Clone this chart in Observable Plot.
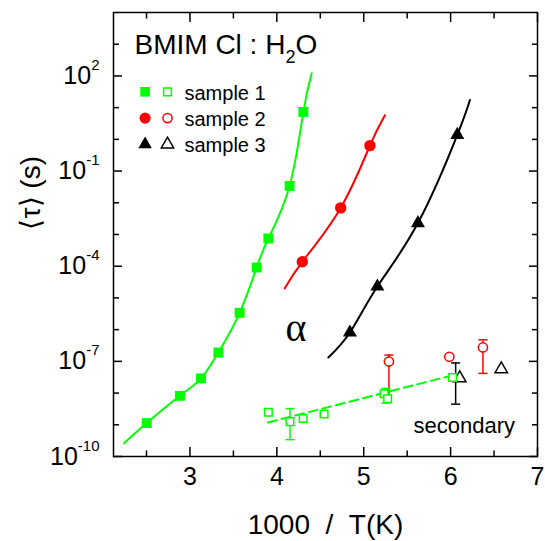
<!DOCTYPE html>
<html><head><meta charset="utf-8">
<script src="https://cdn.jsdelivr.net/npm/d3@7"></script>
<script src="https://cdn.jsdelivr.net/npm/@observablehq/plot@0.6"></script>
<style>body{margin:0;background:#fff}</style>
</head><body><div id="chart"></div>
<script>
// ---------- axis ticks & labels ----------
const xTicksMajor = [3, 4, 5, 6, 7];
const xTicksMinor = [2.5, 3.5, 4.5, 5.5, 6.5];
const xTickLabels = ["3", "4", "5", "6", "7"];
const yTicksMajor = [1e-10, 1e-7, 1e-4, 1e-1, 1e2];
const yTicksMinor = [1e-9, 1e-8, 1e-6, 1e-5, 1e-3, 1e-2, 1, 10, 1e3];
const yTickLabels = ["10^-10", "10^-7", "10^-4", "10^-1", "10^2"];

// ---------- sample 1 (green squares) ----------
const s1AlphaX   = [2.502, 2.885, 3.127, 3.327, 3.572, 3.768, 3.902, 4.147, 4.305];
const s1AlphaTau = [1.13e-9, 8.2e-9, 2.9e-8, 1.9e-7, 3.4e-6, 9.1e-5, 7.5e-4, 3.4e-2, 7.3];
const s1FitX     = [2.241, 2.502, 2.885, 3.127, 3.327, 3.572, 3.768, 3.902, 4.147, 4.305, 4.401];
const s1FitTau   = [2.6e-10, 1.13e-9, 8.2e-9, 2.9e-8, 1.9e-7, 3.4e-6, 9.1e-5, 7.5e-4, 3.4e-2, 7.3, 122];
const s1SecX     = [3.902, 4.151, 4.303, 4.544, 5.235, 5.275, 6.023];
const s1SecTau   = [2.48e-9, 1.26e-9, 1.58e-9, 2.19e-9, 9.5e-9, 6.6e-9, 3.1e-8];
const s1ErrX     = [4.151, 5.255];
const s1ErrLo    = [3.4e-10, 4.84e-9];
const s1ErrHi    = [3.24e-9, 1.40e-8];
const s1SecFitX  = [3.898, 6.077];
const s1SecFitTau= [1.18e-9, 3.97e-8];

// ---------- sample 2 (red circles) ----------
const s2AlphaX   = [4.293, 4.735, 5.071];
const s2AlphaTau = [1.38e-4, 6.9e-3, 0.635];
const s2FitX     = [4.090, 4.293, 4.735, 5.071, 5.244];
const s2FitTau   = [2.0e-5, 1.38e-4, 6.9e-3, 0.635, 5.77];
const s2SecX     = [5.290, 5.985, 6.372];
const s2SecTau   = [9.9e-8, 1.39e-7, 2.74e-7];
const s2ErrX     = [5.290, 6.372];
const s2ErrLo    = [5.75e-9, 4.17e-8];
const s2ErrHi    = [1.58e-7, 4.79e-7];
const s2ErrLoCap = [false, true];

// ---------- sample 3 (black triangles) ----------
const s3AlphaX   = [4.841, 5.157, 5.624, 6.077];
const s3AlphaTau = [8.1e-7, 2.29e-5, 2.29e-3, 1.38];
const s3FitX     = [4.593, 4.841, 5.157, 5.624, 6.077, 6.222];
const s3FitTau   = [1.32e-7, 8.1e-7, 2.29e-5, 2.29e-3, 1.38, 17.5];
const s3SecX     = [6.105, 6.583];
const s3SecTau   = [2.97e-8, 5.70e-8];
const s3ErrX     = [6.058];
const s3ErrLo    = [4.47e-9];
const s3ErrHi    = [8.9e-8];

// ---------- legend ----------
const legendLabels = ["sample 1", "sample 2", "sample 3"];
const legendColors = ["#00ff00", "#ff0000", "#000000"];

const GREEN = "#00ff00", RED = "#ff0000", BLACK = "#000000";
const zip = (xs, ys) => xs.map((x, i) => ({x, y: ys[i]}));
const bars = (xs, lo, hi) => xs.map((x, i) => ({x, lo: lo[i], hi: hi[i]}));
const capSym = {draw(ctx, size) { const r = Math.sqrt(size / Math.PI); ctx.moveTo(-r, 0); ctx.lineTo(r, 0); }};
const tri = d3.symbolTriangle;

function errMarks(data, color, loCaps) {
  const lows = loCaps ? data.filter((d, i) => loCaps[i]) : data;
  return [
    Plot.ruleX(data, {x: "x", y1: "lo", y2: "hi", stroke: color, strokeWidth: 1.5}),
    Plot.dot(data, {x: "x", y: "hi", symbol: capSym, r: 4.5, stroke: color, strokeWidth: 1.5, fill: "none"}),
    Plot.dot(lows, {x: "x", y: "lo", symbol: capSym, r: 4.5, stroke: color, strokeWidth: 1.5, fill: "none"})
  ];
}

const legendSymbols = ["square", "circle", tri];
const legendR = [5.4, 5.6, 5.0];
const legendOpenR = [4.4, 4.6, 4.6];
const legendMarks = legendLabels.flatMap((lab, i) => [
  Plot.dot([lab], {frameAnchor: "top-left", dx: 31.6, dy: 79.3 + i * 26.3, symbol: legendSymbols[i], r: legendR[i], fill: legendColors[i], stroke: "none"}),
  Plot.dot([lab], {frameAnchor: "top-left", dx: 54, dy: 79.3 + i * 26.3, symbol: legendSymbols[i], r: legendOpenR[i], fill: "white", stroke: legendColors[i], strokeWidth: 1.5}),
  Plot.text([lab], {frameAnchor: "top-left", lineAnchor: "middle", dx: 71, dy: 80.8 + i * 26.3, text: d => d, textAnchor: "start", fontSize: 20, fill: "black"})
]);

const tickOpts = {text: null, label: null, strokeWidth: 1.5};

const chart = Plot.plot({
  width: 545, height: 541,
  marginLeft: 113, marginRight: 8, marginTop: 12, marginBottom: 85,
  style: {fontFamily: "'Liberation Sans', Arial, Helvetica, sans-serif", background: "white", color: "black"},
  x: {domain: [2.12, 7]},
  y: {type: "log", domain: [1e-10, 1e4]},
  marks: [
    // inward ticks on all four sides
    Plot.axisX({anchor: "bottom", ticks: xTicksMajor, tickSize: -9, ...tickOpts}),
    Plot.axisX({anchor: "bottom", ticks: xTicksMinor, tickSize: -5.5, ...tickOpts}),
    Plot.axisX({anchor: "top", ticks: xTicksMajor, tickSize: -9, ...tickOpts}),
    Plot.axisX({anchor: "top", ticks: xTicksMinor, tickSize: -5.5, ...tickOpts}),
    Plot.axisY({anchor: "left", ticks: yTicksMajor, tickSize: -9, ...tickOpts}),
    Plot.axisY({anchor: "left", ticks: yTicksMinor, tickSize: -6, ...tickOpts}),
    Plot.axisY({anchor: "right", ticks: yTicksMajor, tickSize: -9, ...tickOpts}),
    Plot.axisY({anchor: "right", ticks: yTicksMinor, tickSize: -6, ...tickOpts}),
    // tick labels
    Plot.axisX({anchor: "bottom", ticks: xTicksMajor, tickSize: 0, tickPadding: 11, fontSize: 25, label: null,
      tickFormat: d => xTickLabels[xTicksMajor.indexOf(d)]}),
    Plot.axisY({anchor: "left", ticks: yTicksMajor, tickSize: 0, tickPadding: 14, fontSize: 25, label: null,
      tickFormat: d => yTickLabels[yTicksMajor.indexOf(d)]}),
    // axis titles
    Plot.text(["1000\u00a0\u00a0/\u00a0\u00a0T(K)"], {frameAnchor: "bottom", lineAnchor: "middle", dy: 68.6, fontSize: 28, fill: "black", text: d => d}),
    Plot.text(["\u27e8\u03c4\u27e9 (s)"], {frameAnchor: "left", lineAnchor: "middle", dx: -82, dy: -5, rotate: -90, fontSize: 28, fill: "black", text: d => d}),

    // sample 3
    Plot.line(zip(s3FitX, s3FitTau), {x: "x", y: "y", stroke: BLACK, strokeWidth: 2, curve: "natural"}),
    Plot.dot(zip(s3AlphaX, s3AlphaTau), {x: "x", y: "y", symbol: tri, r: 5.2, fill: BLACK, stroke: "none"}),
    ...errMarks(bars(s3ErrX, s3ErrLo, s3ErrHi), BLACK),
    Plot.dot(zip(s3SecX, s3SecTau), {x: "x", y: "y", symbol: tri, r: 4.6, fill: "white", stroke: BLACK, strokeWidth: 1.5}),
    // sample 2
    Plot.line(zip(s2FitX, s2FitTau), {x: "x", y: "y", stroke: RED, strokeWidth: 2, curve: "natural"}),
    Plot.dot(zip(s2AlphaX, s2AlphaTau), {x: "x", y: "y", symbol: "circle", r: 5.7, fill: RED, stroke: "none"}),
    ...errMarks(bars(s2ErrX, s2ErrLo, s2ErrHi), RED, s2ErrLoCap),
    Plot.dot(zip(s2SecX, s2SecTau), {x: "x", y: "y", symbol: "circle", r: 4.6, fill: "white", stroke: RED, strokeWidth: 1.5}),
    // sample 1
    Plot.line(zip(s1FitX, s1FitTau), {x: "x", y: "y", stroke: GREEN, strokeWidth: 2, curve: "natural"}),
    Plot.line(zip(s1SecFitX, s1SecFitTau), {x: "x", y: "y", stroke: GREEN, strokeWidth: 2, strokeDasharray: "9,5"}),
    Plot.dot(zip(s1AlphaX, s1AlphaTau), {x: "x", y: "y", symbol: "square", r: 5.6, fill: GREEN, stroke: "none"}),
    ...errMarks(bars(s1ErrX, s1ErrLo, s1ErrHi), GREEN),
    Plot.dot(zip(s1SecX, s1SecTau), {x: "x", y: "y", symbol: "square", r: 4.3, fill: "white", stroke: GREEN, strokeWidth: 1.5}),

    // annotations
    Plot.text(["BMIM Cl : H2O"], {frameAnchor: "top-left", lineAnchor: "middle", dx: 21, dy: 33, textAnchor: "start", fontSize: 28, fill: "black", text: d => d}),
    Plot.text(["\u03b1"], {frameAnchor: "top-left", lineAnchor: "middle", dx: 172, dy: 316, fontSize: 40, fill: "black", fontFamily: "'Liberation Serif', 'DejaVu Serif', serif", text: d => d}),
    Plot.text(["secondary"], {frameAnchor: "top-left", lineAnchor: "middle", dx: 300, dy: 413, textAnchor: "start", fontSize: 22, fill: "black", text: d => d}),
    ...legendMarks,

    Plot.frame({stroke: "black", strokeWidth: 1.5})
  ]
});

document.getElementById("chart").appendChild(chart);

// superscript exponents on y tick labels
const NS = "http://www.w3.org/2000/svg";
chart.querySelectorAll('g[aria-label="y-axis tick label"] text').forEach(t => {
  const [base, exp] = t.textContent.split("^");
  if (exp === undefined) return;
  t.textContent = "";
  const a = document.createElementNS(NS, "tspan"); a.textContent = base;
  const b = document.createElementNS(NS, "tspan"); b.textContent = exp;
  b.setAttribute("font-size", "15"); b.setAttribute("dy", "-14");
  t.appendChild(a); t.appendChild(b);
});
// subscript in the title
chart.querySelectorAll("text").forEach(t => {
  if (t.textContent !== "BMIM Cl : H2O") return;
  t.textContent = "";
  const parts = [["BMIM Cl : H", null, null], ["2", "18", "9"], ["O", null, "-9"]];
  for (const [s, fs, dy] of parts) {
    const sp = document.createElementNS(NS, "tspan"); sp.textContent = s;
    if (fs) sp.setAttribute("font-size", fs);
    if (dy) sp.setAttribute("dy", dy);
    t.appendChild(sp);
  }
});
</script>
</body></html>
